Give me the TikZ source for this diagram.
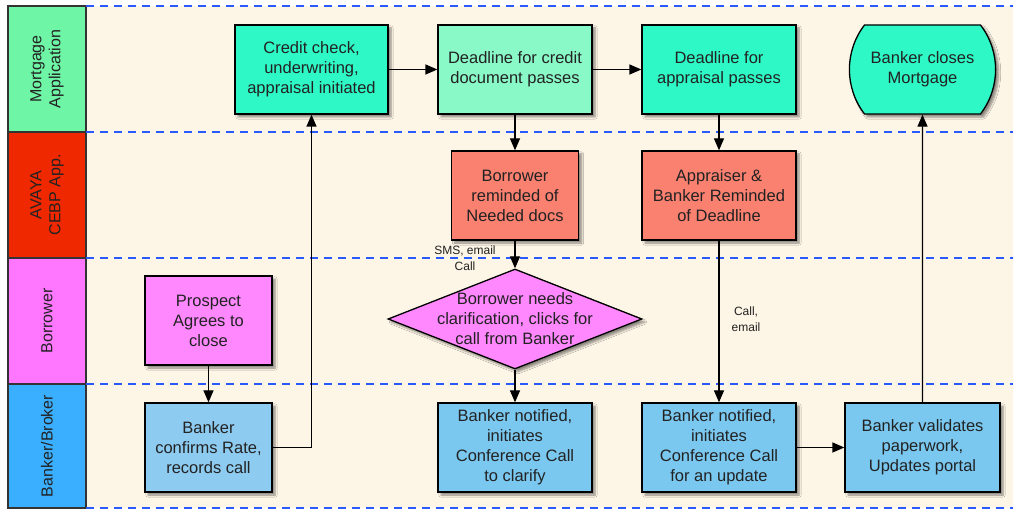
\documentclass[tikz,border=0pt]{standalone}
\usepackage{fontspec}
\setmainfont{Liberation Sans}
\usetikzlibrary{arrows.meta,shapes.geometric,shapes.misc,shadows.blur}

\definecolor{bgcream}{HTML}{FDF5E6}
\definecolor{laneGreen}{HTML}{6EF5A5}
\definecolor{laneRed}{HTML}{F02800}
\definecolor{lanePink}{HTML}{FF77FF}
\definecolor{laneBlue}{HTML}{3AAEFF}
\definecolor{sepblue}{RGB}{40,90,255}
\definecolor{turq}{HTML}{2EF8C6}
\definecolor{mint}{HTML}{8AF9C8}
\definecolor{salmon}{HTML}{FA8070}
\definecolor{orchid}{HTML}{FF88FF}
\definecolor{skyA}{HTML}{8ECBF0}
\definecolor{skyB}{HTML}{7AC8F0}
\definecolor{ink}{HTML}{222222}

\tikzset{
  lanebox/.style={draw=black!80, line width=1.3pt, rotate=90, minimum width=126pt,
    minimum height=78pt, inner sep=0pt, align=center, text=ink,
    font=\fontsize{16}{19}\selectfont},
  lanedash/.style={color=sepblue, line width=1.3pt, dash pattern=on 8pt off 6pt},
  stepbox/.style={draw=black, line width=1.3pt, rectangle, inner sep=2pt,
    align=center, text=ink, font=\fontsize{16.5}{20}\selectfont,
    blur shadow={shadow xshift=3pt, shadow yshift=-3pt, shadow blur steps=6,
      shadow opacity=45}},
  endbox/.style={stepbox, rounded rectangle, rounded rectangle arc length=75},
  decide/.style={draw=black, line width=1.3pt, diamond, inner sep=0pt,
    minimum width=254pt, minimum height=100pt, fill=orchid},
  txt/.style={align=center, text=ink, font=\fontsize{16.5}{20}\selectfont},
  small/.style={align=center, text=ink, font=\fontsize{12}{16}\selectfont},
  conn/.style={draw=black, line width=1.3pt,
    -{Triangle[length=12pt,width=10pt]}},
}

\begin{document}
\begin{tikzpicture}[x=1pt,y=-1pt]
\useasboundingbox (0,0) rectangle (1013,510);

% swimlane background
\fill[bgcream] (86,6) rectangle (1013,508);

% lane headers
\node[lanebox, fill=laneGreen] (hMort) at (47,69) {Mortgage\\Application};
\node[lanebox, fill=laneRed]   (hAvaya) at (47,195) {AVAYA\\CEBP App.};
\node[lanebox, fill=lanePink]  (hBorr) at (47,321) {Borrower};
\node[lanebox, fill=laneBlue, minimum width=124pt] (hBank) at (47,446) {Banker/Broker};

% lane separators
\draw[lanedash] (86,6) -- (1013,6);
\draw[lanedash] (86,132) -- (1013,132);
\draw[lanedash] (86,258) -- (1013,258);
\draw[lanedash] (86,384) -- (1013,384);
\draw[lanedash] (86,508) -- (1013,508);

% Mortgage Application lane
\node[stepbox, fill=turq, minimum width=153pt, minimum height=89pt] (credit) at (311.5,69.5)
  {Credit check,\\underwriting,\\appraisal initiated};
\node[stepbox, fill=mint, minimum width=154pt, minimum height=89pt] (dlcredit) at (515,69.5)
  {Deadline for credit\\document passes};
\node[stepbox, fill=turq, minimum width=154pt, minimum height=89pt] (dlappr) at (719,69.5)
  {Deadline for\\appraisal passes};
\node[endbox, fill=turq, minimum width=148pt, minimum height=89pt] (closes) at (922.5,69.5)
  {Banker closes\\Mortgage};

% AVAYA lane
\node[stepbox, fill=salmon, minimum width=127pt, minimum height=89pt] (remind) at (515,195.5)
  {Borrower\\reminded of\\Needed docs};
\node[stepbox, fill=salmon, minimum width=154pt, minimum height=89pt] (appr) at (719,195.5)
  {Appraiser \&\\Banker Reminded\\of Deadline};

% Borrower lane
\node[stepbox, fill=orchid, minimum width=127pt, minimum height=89pt] (prospect) at (208.5,320.5)
  {Prospect\\Agrees to\\close};
\node[decide, blur shadow={shadow xshift=3pt, shadow yshift=-3pt, shadow blur steps=6,
    shadow opacity=45}] (dia) at (515,319) {};
\node[txt] (diatext) at (dia.center) {Borrower needs\\clarification, clicks for\\call from Banker};

% Banker/Broker lane
\node[stepbox, fill=skyA, minimum width=127pt, minimum height=89pt] (confirm) at (208.5,447.5)
  {Banker\\confirms Rate,\\records call};
\node[stepbox, fill=skyB, minimum width=154pt, minimum height=89pt] (clarify) at (515,447.5)
  {Banker notified,\\initiates\\Conference Call\\to clarify};
\node[stepbox, fill=skyB, minimum width=154pt, minimum height=89pt] (update) at (719,447.5)
  {Banker notified,\\initiates\\Conference Call\\for an update};
\node[stepbox, fill=skyB, minimum width=155pt, minimum height=89pt] (validate) at (922.5,447.5)
  {Banker validates\\paperwork,\\Updates portal};

% connectors
\draw[conn] (prospect) -- (confirm);
\draw[conn] (confirm.east) -| (credit.south);
\draw[conn] (credit) -- (dlcredit);
\draw[conn] (dlcredit) -- (dlappr);
\draw[conn] (dlcredit) -- (remind);
\draw[conn] (dlappr) -- (appr);
\draw[conn] (remind) -- (dia.north);
\draw[conn] (dia.south) -- (clarify);
\draw[conn] (appr) -- (update);
\draw[conn] (update) -- (validate);
\draw[conn] (validate) -- (closes);

% connector labels
\node[small] (lblsms) at (465,258) {SMS, email\\Call};
\node[small] (lblcall) at (746,319) {Call,\\email};
\end{tikzpicture}
\end{document}
